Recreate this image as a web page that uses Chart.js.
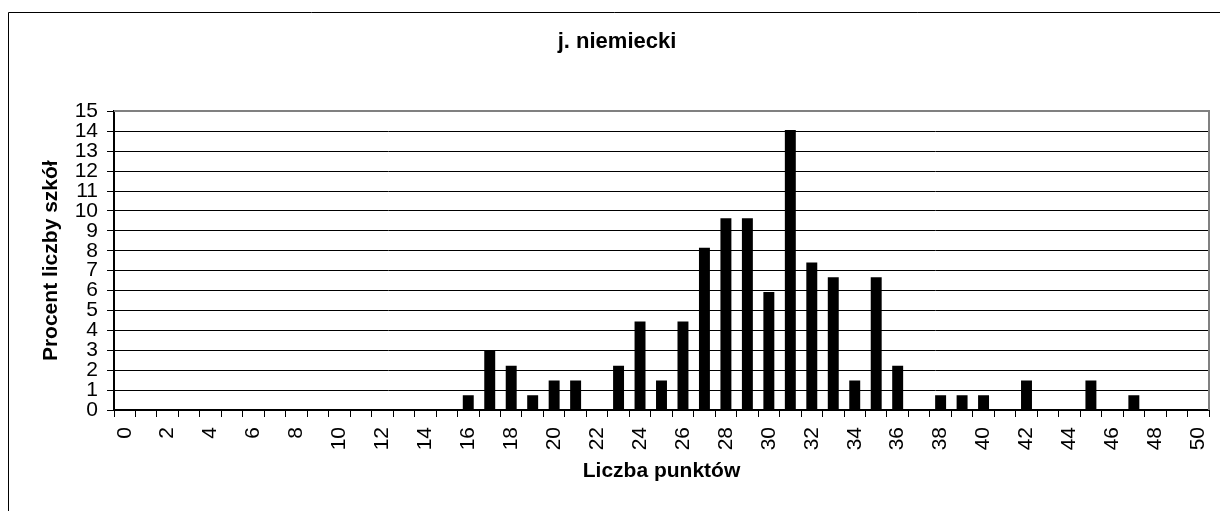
<!DOCTYPE html>
<html>
<head>
<meta charset="utf-8">
<script src="https://cdn.jsdelivr.net/npm/chart.js@4/dist/chart.umd.min.js"></script>
<style>
html,body{margin:0;padding:0;background:#fff;}
#wrap{width:1220px;height:511px;position:relative;}
</style>
</head>
<body>
<div id="wrap"><canvas id="c" width="1220" height="511"></canvas></div>
<script>
const chartTitle = 'j. niemiecki';
const xAxisTitle = 'Liczba punktów';
const yAxisTitle = 'Procent liczby szkół';
const categories = ['0','1','2','3','4','5','6','7','8','9','10','11','12','13','14','15','16','17','18','19','20','21','22','23','24','25','26','27','28','29','30','31','32','33','34','35','36','37','38','39','40','41','42','43','44','45','46','47','48','49','50'];
const percentValues = [0,0,0,0,0,0,0,0,0,0,0,0,0,0,0,0,0.74,2.96,2.22,0.74,1.48,1.48,0,2.22,4.44,1.48,4.44,8.15,9.63,9.63,5.93,14.07,7.41,6.67,1.48,6.67,2.22,0,0.74,0.74,0.74,0,1.48,0,0,1.48,0,0.74,0,0,0];
const yTickMin = 0;
const yTickMax = 15;
const yTickStep = 1;

const FONT = '"Liberation Sans", Arial, sans-serif';

const frame = {
  id: 'frame',
  afterDraw(chart) {
    const ctx = chart.ctx;
    const a = chart.chartArea;
    ctx.save();
    ctx.strokeStyle = '#000';
    ctx.lineWidth = 1;
    ctx.beginPath();
    ctx.moveTo(8.5, 511);
    ctx.lineTo(8.5, 12.5);
    ctx.lineTo(1220, 12.5);
    ctx.stroke();
    ctx.strokeStyle = '#808080';
    ctx.lineWidth = 2;
    ctx.beginPath();
    ctx.moveTo(a.left, Math.round(a.top));
    ctx.lineTo(Math.round(a.right), Math.round(a.top));
    ctx.lineTo(Math.round(a.right), a.bottom);
    ctx.stroke();
    ctx.restore();
  }
};

new Chart(document.getElementById('c'), {
  type: 'bar',
  data: {
    labels: categories,
    datasets: [{
      data: percentValues,
      backgroundColor: '#000',
      borderWidth: 0,
      barPercentage: 0.51,
      categoryPercentage: 1
    }]
  },
  options: {
    responsive: false,
    animation: false,
    layout: { padding: { left: 14, right: 0, top: 0, bottom: 0 } },
    plugins: {
      legend: { display: false },
      tooltip: { enabled: false },
      title: {
        display: true,
        text: chartTitle,
        color: '#000',
        font: { family: FONT, size: 22, weight: 'bold', lineHeight: 1.2 },
        padding: { top: 29, bottom: 56 }
      }
    },
    scales: {
      x: {
        offset: true,
        grid: { offset: true, drawOnChartArea: false, drawTicks: true, tickLength: 7, tickColor: '#000', color: '#000' },
        border: { display: true, color: '#000', width: 2 },
        ticks: {
          autoSkip: false,
          maxRotation: 90,
          minRotation: 90,
          padding: 10,
          color: '#000',
          font: { family: FONT, size: 21 },
          callback: function(val, idx) { return idx % 2 === 0 ? this.getLabelForValue(val) : ''; }
        },
        title: {
          display: true,
          text: xAxisTitle,
          color: '#000',
          font: { family: FONT, size: 21, weight: 'bold', lineHeight: 1.2 },
          padding: { top: 4, bottom: 27 }
        },
        afterFit(scale) { scale.height = 101; scale.paddingRight = 11; }
      },
      y: {
        min: yTickMin,
        max: yTickMax,
        grid: { color: '#000', lineWidth: 1, drawTicks: true, tickLength: 7, tickColor: '#000' },
        border: { display: true, color: '#000', width: 2 },
        ticks: {
          stepSize: yTickStep,
          autoSkip: false,
          padding: 9,
          color: '#000',
          font: { family: FONT, size: 21 }
        },
        title: {
          display: true,
          text: yAxisTitle,
          color: '#000',
          font: { family: FONT, size: 21, weight: 'bold', lineHeight: 1.2 },
          padding: { top: 25, bottom: 4 }
        },
        afterFit(scale) { scale.width = 100; }
      }
    }
  },
  plugins: [frame]
});
</script>
</body>
</html>
